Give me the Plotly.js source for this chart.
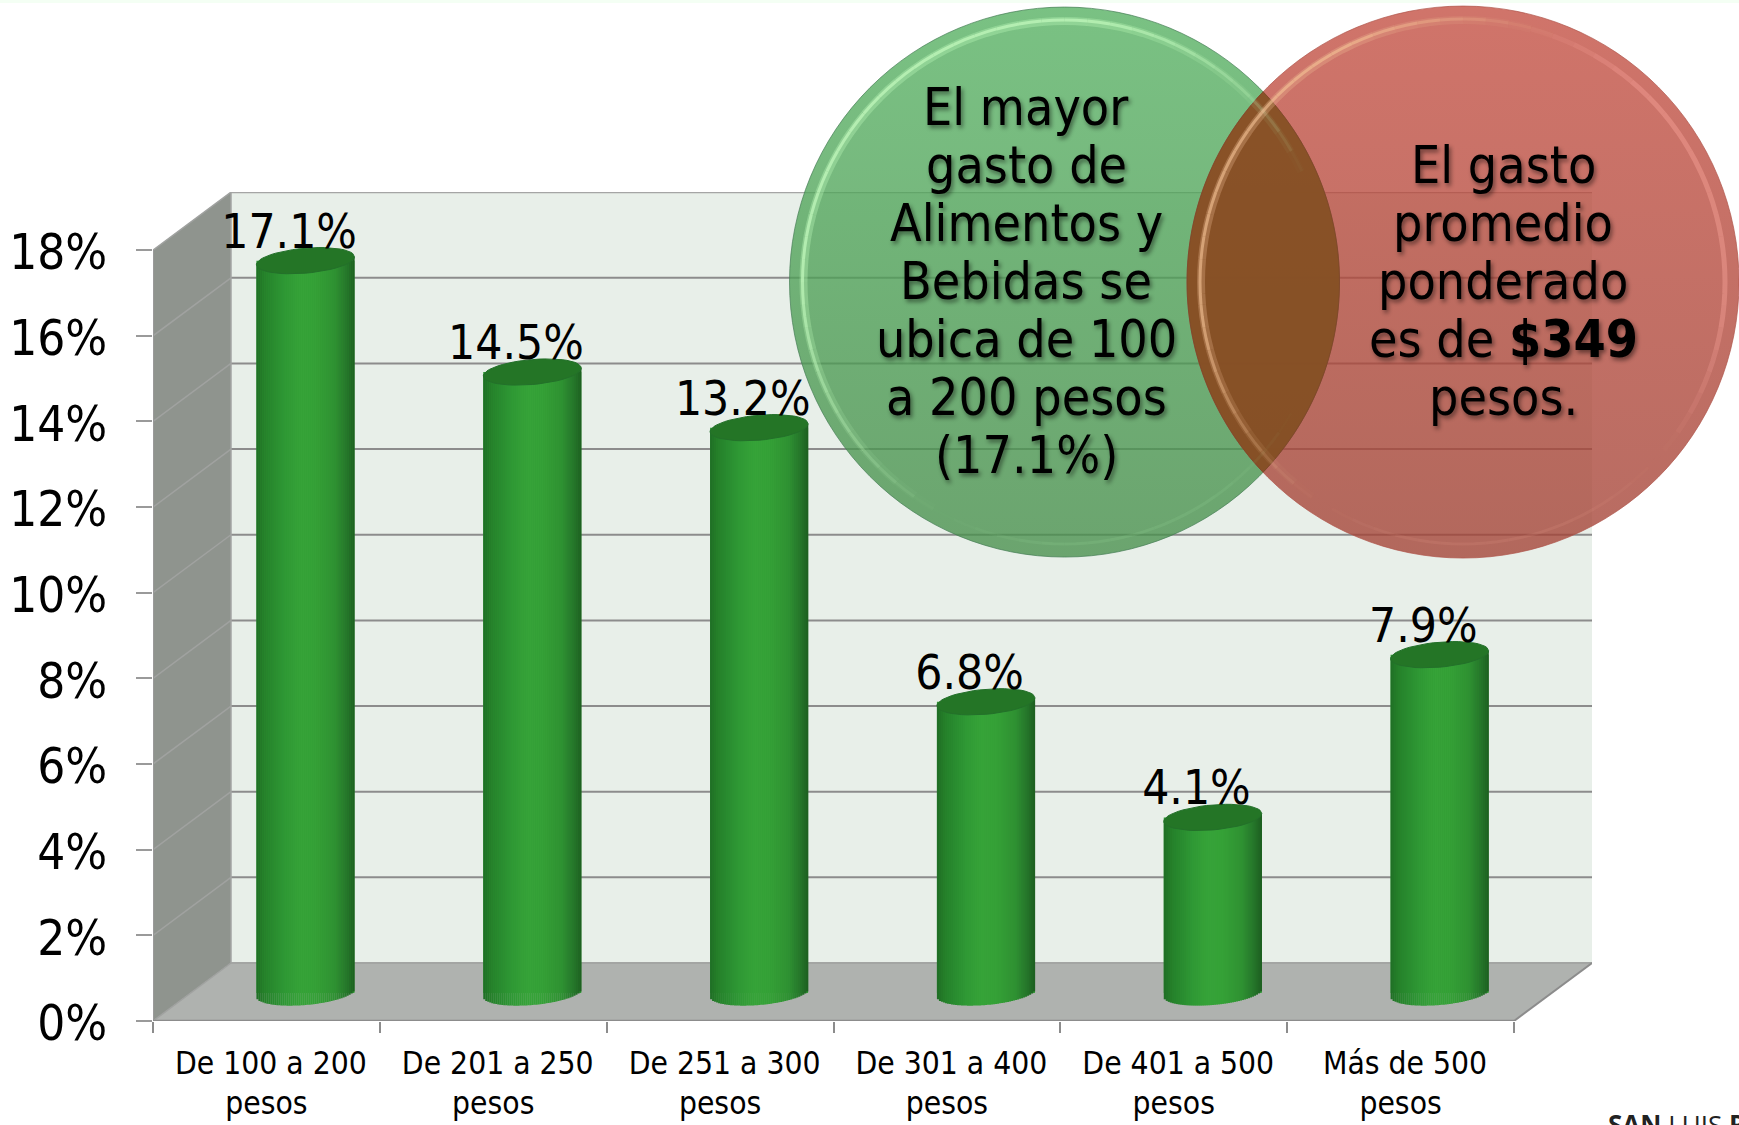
<!DOCTYPE html>
<html><head><meta charset="utf-8">
<script src="https://cdn.plot.ly/plotly-3.0.1.min.js"></script>
<style>html,body{margin:0;padding:0;background:#fff;overflow:hidden}</style>
</head><body><div id="chart" style="width:1739px;height:1125px"></div>
<script>
const categories = ["De 100 a 200","De 201 a 250","De 251 a 300","De 301 a 400","De 401 a 500","Más de 500"];
const values = [17.1,14.5,13.2,6.8,4.1,7.9];
const valueLabels = ["17.1%","14.5%","13.2%","6.8%","4.1%","7.9%"];
const yTicks = [0,2,4,6,8,10,12,14,16,18];
const leftNote = ["El mayor","gasto de","Alimentos y","Bebidas se","ubica de 100","a 200 pesos","(17.1%)"];
const rightNote = ["El gasto","promedio","ponderado","es de <b>$349</b>","pesos."];

const FONT = '"DejaVu Sans Condensed","DejaVu Sans",sans-serif';
// plot frame in pixels
const L=153,R=1592,T=192,B=1021,W=1739,H=1125;
const pxX=226.83, pxY=42.83;
const X=p=>(p-L)/pxX-0.5, Y=p=>(B-p)/pxY;
const PX=p=>(p-L)/(R-L), PY=p=>(B-p)/(B-T);
const dx=78/pxX, dy=58/pxY;
const xMax=5.5+dx, yMax=18+dy+0.003;

// ---- cylinder geometry
const barW=98/pxX, barShift=dx/2, base0=28/pxY, ryTop=12.5, ryBot=12, tilt=4, N=49;
const stops=[[0,[31,110,37]],[.08,[37,128,42]],[.3,[47,153,53]],[.45,[54,163,56]],[.6,[53,161,55]],[.8,[47,145,50]],[.92,[37,117,42]],[1,[29,94,32]]];
function bandColor(u){
  for(let i=1;i<stops.length;i++){ if(u<=stops[i][0]){
    const a=stops[i-1],b=stops[i],t=(u-a[0])/(b[0]-a[0]);
    return 'rgb('+a[1].map((c,k)=>Math.round(c+(b[1][k]-c)*t)).join(',')+')';
  }}
  return 'rgb(29,94,32)';
}
const idx=categories.map((_,i)=>i);
const traces=[];
traces.push({type:'bar',name:'Gasto',x:idx,y:values,base:base0,width:barW,offset:barShift-barW/2,
  marker:{color:'#2F9933',line:{width:0}},hoverinfo:'skip',showlegend:false});
for(let b=0;b<N;b++){
  const u=(b+.5)/N,s=2*u-1,drop=(ryBot*Math.sqrt(1-s*s)-s*tilt)/pxY,lift=s*tilt/pxY;
  traces.push({type:'bar',x:idx,y:values.map(v=>v+drop+lift),base:base0-drop,
    width:barW/N+0.001,offset:barShift-barW/2+b*barW/N,
    marker:{color:bandColor(u),line:{width:0}},hoverinfo:'skip',showlegend:false});
}
// top caps
const capX=[],capY=[];
values.forEach((v,i)=>{
  for(let k=0;k<=48;k++){const t=k/48*2*Math.PI,c=Math.cos(t),sn=Math.sin(t);
    capX.push(i+barShift+c*barW/2);
    capY.push(v+base0+(-sn*ryTop+c*tilt)/pxY);}
  capX.push(null);capY.push(null);
});
traces.push({type:'scatter',mode:'lines',x:capX,y:capY,fill:'toself',fillcolor:'#247526',line:{color:'#23702A',width:1},hoverinfo:'skip',showlegend:false});
// value labels
traces.push({type:'scatter',mode:'text',x:idx.map(i=>i+0.1),y:values.map(v=>v+base0+0.58),text:valueLabels,textposition:'middle center',
  textfont:{family:FONT,size:47.5,color:'#000'},cliponaxis:false,hoverinfo:'skip',showlegend:false});

// ---- note circles
const gc={x:1064.5,y:282,r:275}, rc={x:1463,y:282,r:276};
function disc(c,top,bot,edge){
  return {type:'scatter',mode:'markers',x:[X(c.x)],y:[Y(c.y)],cliponaxis:false,hoverinfo:'skip',showlegend:false,
    marker:{symbol:'circle',size:2*c.r,sizemode:'diameter',color:top,gradient:{type:'vertical',color:bot},line:{color:edge,width:1}}};
}
traces.push(disc(gc,'rgba(84,176,96,0.78)','rgba(72,143,76,0.78)','rgba(70,125,85,0.7)'));
traces.push(disc(rc,'rgba(195,77,64,0.78)','rgba(163,66,53,0.78)','rgba(175,85,75,0.7)'));

// ---- walls, floor, grid
const poly=pts=>'M '+pts.map(p=>p[0]+' '+p[1]).join(' L ')+' Z';
const x0=-0.5,x1=5.5;
const shapes=[
  {type:'path',path:poly([[x0+dx,dy],[xMax,dy],[xMax,yMax],[x0+dx,yMax]]),fillcolor:'#E8EFE9',line:{width:0},layer:'below'},
  {type:'path',path:poly([[x0,0],[x0+dx,dy],[x0+dx,yMax],[x0,18]]),fillcolor:'#8F948E',line:{width:0},layer:'below'},
  {type:'path',path:poly([[x0,0],[x1,0],[xMax,dy],[x0+dx,dy]]),fillcolor:'#AFB2AF',line:{width:0},layer:'below'}
];
yTicks.forEach(v=>{
  shapes.push({type:'line',x0:x0+dx,x1:xMax,y0:v+dy,y1:v+dy,line:{color:v===0?'#A3A5A3':(v===18?'#A5A5A5':'#8C8C8C'),width:2},layer:'below'});
  shapes.push({type:'line',x0:x0,x1:x0+dx,y0:v,y1:v+dy,line:{color:'#A0A2A0',width:1.5},layer:'below'});
});
shapes.push({type:'line',x0:x0+dx,x1:x0+dx,y0:dy,y1:yMax,line:{color:'#A3A5A3',width:1.5},layer:'below'});
shapes.push({type:'line',x0:x0,x1:x0,y0:0,y1:18,line:{color:'#9A9A9A',width:2},layer:'below'});
shapes.push({type:'line',x0:x1,x1:xMax,y0:0,y1:dy,line:{color:'#8C8C8C',width:2},layer:'below'});
shapes.push({type:'line',x0:x0,x1:x1,y0:0,y1:0,line:{color:'#8C8C8C',width:2.5},layer:'below'});
// faint strip along the very top edge of the picture
shapes.push({type:'rect',xref:'paper',yref:'paper',x0:PX(0),x1:PX(W),y0:PY(3),y1:PY(0),fillcolor:'#F4FFF4',line:{width:0},layer:'below'});

// overlap lens of the two circles
(function(){
  const d=rc.x-gc.x,a=(d*d+gc.r*gc.r-rc.r*rc.r)/(2*d),h=Math.sqrt(gc.r*gc.r-a*a);
  const ag=Math.atan2(h,a),ar=Math.atan2(h,d-a),pts=[];
  for(let k=0;k<=60;k++){const t=-ag+2*ag*k/60;pts.push([PX(gc.x+gc.r*Math.cos(t)),PY(gc.y+gc.r*Math.sin(t))]);}
  for(let k=0;k<=60;k++){const t=Math.PI-ar+2*ar*k/60;pts.push([PX(rc.x+rc.r*Math.cos(t)),PY(rc.y+rc.r*Math.sin(t))]);}
  shapes.push({type:'path',xref:'paper',yref:'paper',path:poly(pts),fillcolor:'rgba(130,79,33,0.85)',line:{color:'rgba(120,70,40,0.7)',width:1},layer:'above'});
})();
// soft rim highlights, fading toward both ends
function glow(c,r,a0,a1,rgb,peak,w){
  const step=5;
  for(let a=a0;a<a1;a+=step){
    const m=(a+step/2-a0)/(a1-a0), alpha=peak*Math.min(1,Math.min(m,1-m)*3.5);
    const p=[];
    for(let k=0;k<=2;k++){const t=(a+k*step/2)*Math.PI/180;p.push(PX(c.x+r*Math.cos(t))+' '+PY(c.y+r*Math.sin(t)));}
    shapes.push({type:'path',xref:'paper',yref:'paper',path:'M '+p.join(' L '),
      line:{color:`rgba(${rgb},${alpha.toFixed(3)})`,width:w},layer:'above'});
  }
}
glow(gc,261,120,335,'190,250,185',0.35,8);
glow(gc,262,120,335,'195,250,190',0.7,3);
glow(gc,262,30,120,'170,235,170',0.12,3);
glow(rc,262,125,290,'240,190,150',0.3,8);
glow(rc,263,125,290,'245,195,150',0.6,3);
glow(rc,262,280,400,'255,170,160',0.38,5);
glow(rc,262,40,125,'245,170,155',0.12,3);

// ---- notes as text
const annotations=[];
const noteFont={family:FONT,size:51.5,color:'#000',shadow:'2px 3px 4px rgba(0,0,0,0.45)'};
const note=(t,px,py)=>annotations.push({xref:'paper',yref:'paper',x:PX(px),y:PY(py),text:t,showarrow:false,xanchor:'center',yanchor:'middle',font:noteFont});
leftNote.forEach((t,i)=>note(t,1026,107+i*58));
rightNote.forEach((t,i)=>note(t,1503,165+i*58));
annotations.push({xref:'paper',yref:'paper',x:PX(1606),y:PY(1104),xanchor:'left',yanchor:'top',showarrow:false,
  text:'<b>SAN</b> LUIS <b>P</b>',font:{family:'"Open Sans",sans-serif',size:26,color:'#222'}});

const tickText=categories.map(c=>'\u00A0'+c+'<br>pesos');
const layout={
  width:W,height:H,autosize:false,paper_bgcolor:'#fff',plot_bgcolor:'rgba(0,0,0,0)',
  margin:{l:L,r:W-R,t:T,b:H-B,pad:0},barmode:'overlay',showlegend:false,
  xaxis:{type:'linear',range:[x0,xMax],tickmode:'array',tickvals:idx,ticktext:tickText,ticks:'',
    tickfont:{family:FONT,size:31.5,color:'#000'},showgrid:false,zeroline:false,showline:false,ticklabelstandoff:20,
    minor:{ticks:'outside',tickmode:'array',tickvals:[-0.5,0.5,1.5,2.5,3.5,4.5,5.5],ticklen:11,tickwidth:2,tickcolor:'#8C8C8C',showgrid:false}},
  yaxis:{type:'linear',range:[0,yMax],tickmode:'array',tickvals:yTicks,ticktext:yTicks.map(v=>v+'%'),ticks:'outside',ticklen:16,tickwidth:2,tickcolor:'#9A9A9A',
    tickfont:{family:FONT,size:49,color:'#000'},showgrid:false,zeroline:false,showline:false,ticklabelstandoff:19,ticklabelshift:2},
  shapes:shapes,annotations:annotations
};
Plotly.newPlot('chart',traces,layout,{displayModeBar:false,responsive:false,staticPlot:true});
</script></body></html>
